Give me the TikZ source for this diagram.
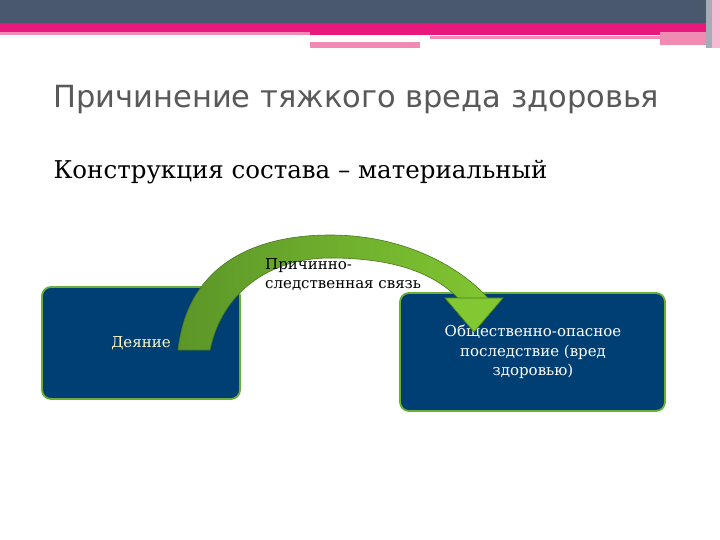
\documentclass[tikz,border=0pt]{standalone}
\usepackage{fontspec}
\setmainfont{DejaVu Serif}
\newfontfamily\titlefont{DejaVu Sans}
\begin{document}
\begin{tikzpicture}[x=1pt,y=-1pt,
  box/.style={draw=bord, line width=1.8pt, fill={rgb,255:red,0;green,63;blue,115}, rounded corners=9pt}]
\definecolor{slate}{RGB}{74,88,109}
\definecolor{pinkc}{RGB}{232,25,122}
\definecolor{pinkl}{RGB}{240,140,180}
\definecolor{bord}{RGB}{106,174,60}
\definecolor{gdark}{RGB}{92,150,40}
\definecolor{glight}{RGB}{130,200,50}
\useasboundingbox (0,0) rectangle (720,540);
\fill[white] (0,0) rectangle (720,540);
\fill[slate] (0,0) rectangle (706,23);
\fill[pinkc] (0,23) rectangle (706,32);
\fill[pinkl] (0,32) rectangle (310,35);
\fill[pinkc] (310,32) rectangle (706,35);
\fill[pinkl] (430,36) rectangle (660,39);
\fill[pinkl] (310,42) rectangle (420,48);
\fill[pinkl] (660,32) rectangle (706,45);
\fill[slate!50] (706,0) rectangle (712,48);
\fill[pinkl!60] (712,0) rectangle (720,48);
\node[anchor=west, text=black!65, font=\titlefont\fontsize{30.5}{34}\selectfont] (title) at (50,100) {Причинение тяжкого вреда здоровья};
\node[anchor=west, font=\fontsize{24.5}{29}\selectfont] (sub) at (50,172) {Конструкция состава – материальный};
\node[box, minimum width=198pt, minimum height=112pt] (a) at (141,343) {};
\node[text={rgb,255:red,255;green,250;blue,200}, font=\fontsize{15}{17}\selectfont] (at) at (141,343) {Деяние};
\node[box, minimum width=265pt, minimum height=118pt] (b) at (532.5,352) {};
\path[draw=gdark!80!black, line width=0.6pt, left color=gdark, right color=glight]
 (178,350) .. controls (188,262) and (258,235) .. (330,235) .. controls (402,235) and (458,265) .. (488,298)
 -- (503,298) -- (474,332) -- (445,298) -- (458,298)
 .. controls (432,272) and (392,258) .. (330,258) .. controls (270,258) and (222,292) .. (210,350) -- cycle;
\node[anchor=north west, align=left, font=\fontsize{15}{19.5}\selectfont, inner sep=0pt] (lab) at (265,258) {Причинно-\\следственная связь};
\node[align=center, text=white, font=\fontsize{15}{19.5}\selectfont] (bt) at (533,352) {Общественно-опасное\\последствие (вред\\здоровью)};
\path[fill=glight, draw=gdark!80!black, line width=0.6pt] (488,298) -- (503,298) -- (474,332) -- (445,298) -- (458,298) -- cycle;
\end{tikzpicture}
\end{document}
